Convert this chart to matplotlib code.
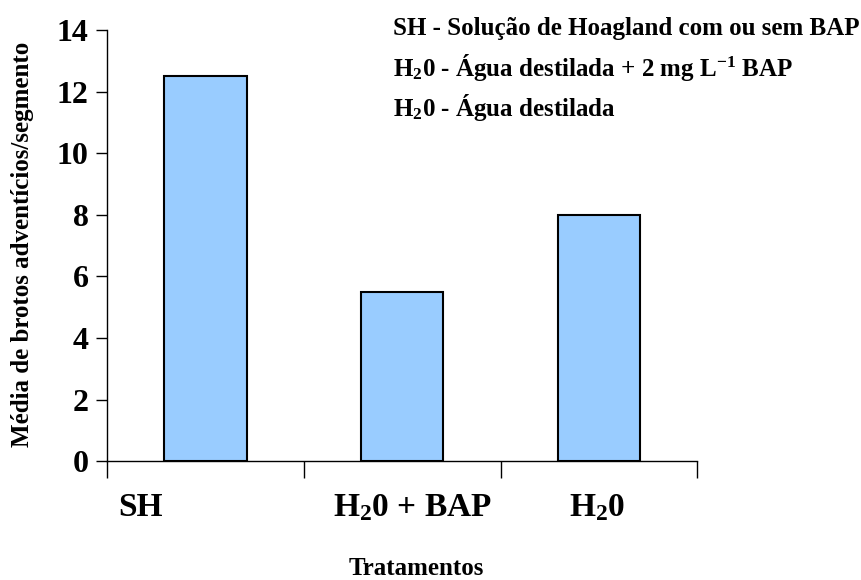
import matplotlib
matplotlib.use("Agg")

import matplotlib.pyplot as plt
import numpy as np

# Data
categories = ["SH", "H2O + BAP", "H2O"]
tick_labels = [r"SH", r"$\mathrm{H_{2}0}$ + BAP", r"$\mathrm{H_{2}0}$"]
means = [12.5, 5.5, 8.0]
legend_lines = [
    r"SH - Solução de Hoagland com ou sem BAP",
    r"$\mathrm{H_{2}0}$ - Água destilada + 2 mg $\mathrm{L^{-1}}$ BAP",
    r"$\mathrm{H_{2}0}$ - Água destilada",
]

plt.rcParams["font.family"] = ["Liberation Serif", "DejaVu Serif"]
plt.rcParams["font.weight"] = "bold"
plt.rcParams["mathtext.fontset"] = "custom"
plt.rcParams["mathtext.rm"] = "Liberation Serif:bold"
plt.rcParams["mathtext.bf"] = "Liberation Serif:bold"
plt.rcParams["mathtext.it"] = "Liberation Serif:bold:italic"

fig = plt.figure(figsize=(8.62, 5.80), dpi=100)
ax = fig.add_axes([0.124, 0.205, 0.685, 0.743])

x = np.arange(len(categories))
ax.bar(x, means, width=0.42, color="#99CCFF", edgecolor="black", linewidth=1.5)

ax.set_xlim(-0.5, len(categories) - 0.5)
ax.set_ylim(0, 14)
ax.set_yticks(np.arange(0, 15, 2))
ax.tick_params(axis="y", direction="out", length=8, width=1, labelsize=23, pad=5)
ax.set_xticks(np.arange(-0.5, len(categories), 1.0))
ax.set_xticklabels([])
ax.tick_params(axis="x", direction="out", length=12, width=1)

for lab in ax.get_yticklabels():
    lab.set_fontweight("bold")

for sp in ["top", "right"]:
    ax.spines[sp].set_visible(False)
for sp in ["left", "bottom"]:
    ax.spines[sp].set_linewidth(1)

# category labels under the axis (SH sits left of its bar in the original)
label_x = [-0.33, 1.05, 1.99]
for xi, lab in zip(label_x, tick_labels):
    ax.text(xi, -1.5, lab, ha="center", va="center", fontsize=24,
            fontweight="bold", transform=ax.transData)

fig.text(0.026, 0.578, "Média de brotos adventícios/segmento", rotation=90,
         ha="center", va="center", fontsize=18, fontweight="bold")
fig.text(0.483, 0.019, "Tratamentos", ha="center", va="center",
         fontsize=18, fontweight="bold")

for i, line in enumerate(legend_lines):
    fig.text(0.456, 0.951 - i * 0.068, line, ha="left", va="center",
             fontsize=18, fontweight="bold")

fig.savefig("out.png", dpi=100)
